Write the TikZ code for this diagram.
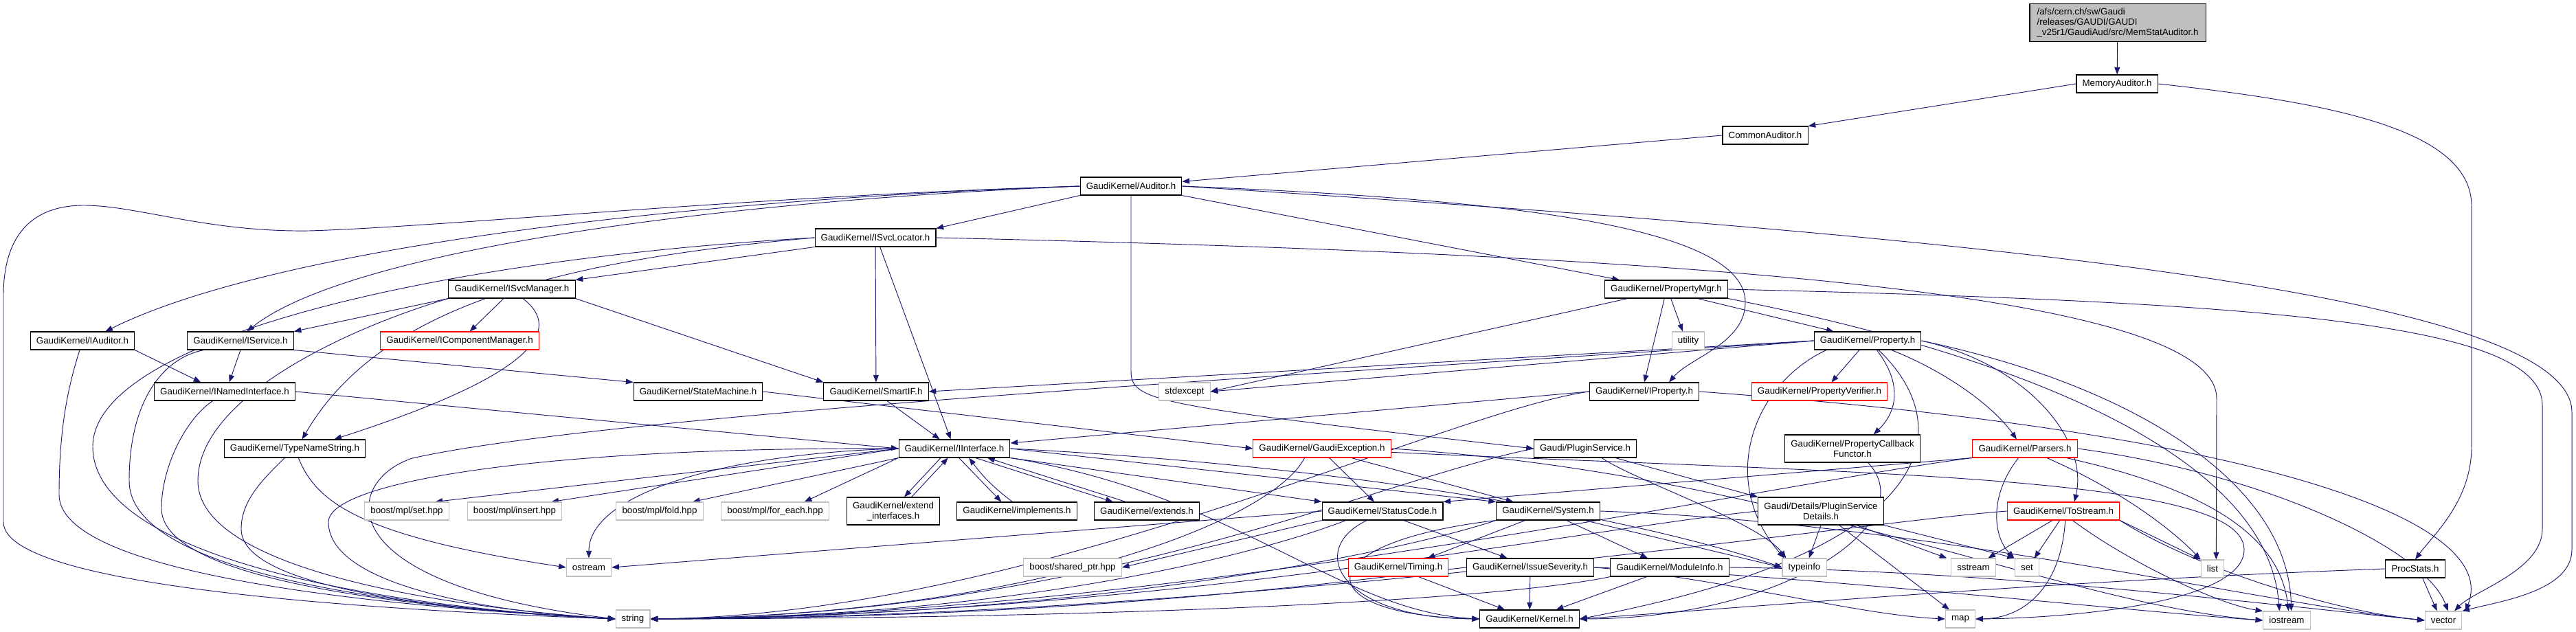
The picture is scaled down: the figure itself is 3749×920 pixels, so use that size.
\documentclass[tikz,border=0pt]{standalone}
\usepackage{fontspec}
\setmainfont{Liberation Sans}
\usetikzlibrary{arrows.meta}

\definecolor{edgeblue}{HTML}{191970}
\definecolor{sysgray}{HTML}{BFBFBF}
\pgfdeclarelayer{edges}
\pgfsetlayers{edges,main}

\tikzset{
  hdr/.style={draw=black, fill=white, line width=0.8pt, font=\fontsize{10}{11.25}\selectfont,
    inner xsep=6.5pt, inner ysep=1pt, minimum height=19.5pt, align=center},
  syshdr/.style={hdr, draw=sysgray},
  redhdr/.style={hdr, draw=red},
  twoline/.style={minimum height=30pt},
  dep/.style={edgeblue, line width=0.7pt, -{Triangle[length=8pt,width=6pt]}}
}

\begin{document}
\begin{tikzpicture}[x=0.75pt,y=-0.75pt]
\useasboundingbox (0,0) rectangle (3749,920);

\node[hdr, fill=sysgray, align=left, minimum width=192pt, minimum height=41pt] (memstat) at (3082,33) {/afs/cern.ch/sw/Gaudi\\/releases/GAUDI/GAUDI\\\_v25r1/GaudiAud/src/MemStatAuditor.h};
\node[hdr] (memaud) at (3081,122) {MemoryAuditor.h};
\node[hdr] (common) at (2569,197) {CommonAuditor.h};
\node[hdr] (auditor) at (1646,271) {GaudiKernel/Auditor.h};
\node[hdr] (svcloc) at (1274,346) {GaudiKernel/ISvcLocator.h};
\node[hdr] (svcman) at (745,421) {GaudiKernel/ISvcManager.h};
\node[hdr] (propmgr) at (2425,421) {GaudiKernel/PropertyMgr.h};
\node[hdr] (iauditor) at (120,496) {GaudiKernel/IAuditor.h};
\node[hdr] (iservice) at (350,496) {GaudiKernel/IService.h};
\node[redhdr] (compmgr) at (669,496) {GaudiKernel/IComponentManager.h};
\node[syshdr] (utility) at (2457,496) {utility};
\node[hdr] (property) at (2718,496) {GaudiKernel/Property.h};
\node[hdr] (named) at (327,570) {GaudiKernel/INamedInterface.h};
\node[hdr] (statemach) at (1016,570) {GaudiKernel/StateMachine.h};
\node[hdr] (smartif) at (1275,570) {GaudiKernel/SmartIF.h};
\node[syshdr] (stdexcept) at (1724,570) {stdexcept};
\node[hdr] (iproperty) at (2393,570) {GaudiKernel/IProperty.h};
\node[redhdr] (verifier) at (2648,570) {GaudiKernel/PropertyVerifier.h};
\node[hdr] (typename) at (429,653) {GaudiKernel/TypeNameString.h};
\node[hdr] (iface) at (1389,653) {GaudiKernel/IInterface.h};
\node[redhdr] (gexcept) at (1924,653) {GaudiKernel/GaudiException.h};
\node[hdr] (plugin) at (2307,653) {Gaudi/PluginService.h};
\node[hdr, twoline] (callback) at (2696,653) {GaudiKernel/PropertyCallback\\Functor.h};
\node[redhdr] (parsers) at (2947,653) {GaudiKernel/Parsers.h};
\node[syshdr] (mplset) at (592,744) {boost/mpl/set.hpp};
\node[syshdr] (mplinsert) at (749,744) {boost/mpl/insert.hpp};
\node[syshdr] (mplfold) at (960,744) {boost/mpl/fold.hpp};
\node[syshdr] (mplforeach) at (1128,744) {boost/mpl/for\_each.hpp};
\node[hdr, twoline] (extendif) at (1300,744) {GaudiKernel/extend\\\_interfaces.h};
\node[hdr] (implements) at (1480,744) {GaudiKernel/implements.h};
\node[hdr] (extends) at (1669,744) {GaudiKernel/extends.h};
\node[hdr] (status) at (2012,744) {GaudiKernel/StatusCode.h};
\node[hdr] (system) at (2253,744) {GaudiKernel/System.h};
\node[hdr, twoline] (plugdet) at (2650,744) {Gaudi/Details/PluginService\\Details.h};
\node[redhdr] (tostream) at (3003,744) {GaudiKernel/ToStream.h};
\node[syshdr] (ostream) at (857,826) {ostream};
\node[syshdr] (sharedptr) at (1561,826) {boost/shared\_ptr.hpp};
\node[redhdr] (timing) at (2035,826) {GaudiKernel/Timing.h};
\node[hdr] (severity) at (2227,826) {GaudiKernel/IssueSeverity.h};
\node[hdr] (modinfo) at (2430,826) {GaudiKernel/ModuleInfo.h};
\node[syshdr] (typeinfo) at (2626,826) {typeinfo};
\node[syshdr] (sstream) at (2872,826) {sstream};
\node[syshdr] (set) at (2950,826) {set};
\node[syshdr] (list) at (3220,828) {list};
\node[hdr] (procstats) at (3515,828) {ProcStats.h};
\node[syshdr] (string) at (921,901) {string};
\node[hdr] (kernel) at (2226,901) {GaudiKernel/Kernel.h};
\node[syshdr] (map) at (2853,901) {map};
\node[syshdr] (iostream) at (3328,903) {iostream};
\node[syshdr] (vector) at (3556,903) {vector};

\begin{pgfonlayer}{edges}
% auditor chain
\draw[dep] (memstat) -- (memaud);
\draw[dep] (memaud.west) -- (common.north east);
\draw[dep] (memaud.east) .. controls (3400,150) and (3597,190) .. (3597,300) -- (3597,650) .. controls (3597,730) and (3540,780) .. (procstats.north);
\draw[dep] (common.west) -- ([yshift=5pt]auditor.east);

\draw[dep] (auditor.west) .. controls (1100,285) and (650,330) .. (450,336) .. controls (300,338) and (200,299) .. (122,299) .. controls (40,299) and (5,350) .. (5,430) -- (5,760) .. controls (5,860) and (600,890) .. (string.west);
\draw[dep] (auditor.west) .. controls (1000,290) and (400,360) .. ([xshift=25pt]iauditor.north);
\draw[dep] (auditor.west) .. controls (1000,295) and (500,370) .. ([xshift=7pt]iservice.north);
\draw[dep] (auditor.south west) -- (svcloc.north east);
\draw[dep] (auditor.south east) -- ([xshift=-51pt]propmgr.north);
\draw[dep] (auditor.east) .. controls (2200,290) and (2540,330) .. (2540,440) .. controls (2540,500) and (2460,520) .. ([xshift=27pt]iproperty.north);
\draw[dep] (auditor.south) -- (1646,540) .. controls (1646,585) and (1680,590) .. (plugin.west);
\draw[dep] (auditor.east) .. controls (2800,340) and (3743,420) .. (3743,600) -- (3743,800) .. controls (3743,860) and (3640,875) .. (vector.north east);

\draw[dep] (svcloc.south west) -- (svcman.north east);
\draw[dep] (svcloc) -- (smartif);
\draw[dep] ([xshift=5pt]svcloc.south) -- ([xshift=-4pt]iface.north);
\draw[dep] (svcloc.west) .. controls (800,380) and (550,450) .. ([xshift=8pt]typename.north);
\draw[dep] (svcloc.west) .. controls (600,380) and (135,500) .. (135,650) .. controls (135,800) and (500,880) .. (string.west);
\draw[dep] (svcloc.east) .. controls (2400,370) and (3226,420) .. (3226,580) -- ([xshift=4pt]list.north);

\draw[dep] (svcman.south west) -- (iservice.north east);
\draw[dep] ([xshift=-9pt]svcman.south) -- ([xshift=11pt]compmgr.north);
\draw[dep] (svcman.south east) -- (smartif.north west);
\draw[dep] ([xshift=12pt]svcman.south) .. controls (820,480) and (780,545) .. ([xshift=43pt]typename.north);
\draw[dep] (svcman.south west) .. controls (500,480) and (288,580) .. (288,700) .. controls (288,820) and (600,880) .. (string.west);

\draw[dep] (iauditor.south east) -- ([xshift=-26pt]named.north);
\draw[dep] ([xshift=-3pt]iauditor.south) .. controls (100,560) and (86,620) .. (86,720) .. controls (86,830) and (500,880) .. (string.west);
\draw[dep] (iservice.south) -- ([xshift=5pt]named.north);
\draw[dep] (iservice.south east) -- (statemach.north west);
\draw[dep] ([xshift=-40pt]iservice.south) .. controls (240,520) and (188,580) .. (188,700) .. controls (188,820) and (500,880) .. (string.west);
\draw[dep] (named.east) -- (iface.west);
\draw[dep] ([xshift=-13pt]named.south) .. controls (270,610) and (235,680) .. (235,740) .. controls (235,830) and (500,880) .. (string.west);
\draw[dep] ([xshift=-11pt]typename.south) .. controls (380,700) and (351,730) .. (351,770) .. controls (351,850) and (600,885) .. (string.west);
\draw[dep] ([xshift=4pt]typename.south) .. controls (460,730) and (520,780) .. (ostream.west);
\draw[dep] (statemach.east) -- (gexcept.west);
\draw[dep] ([xshift=12pt]smartif.south) -- ([xshift=-16pt]iface.north);

% IInterface
\draw[dep] ([xshift=-15pt]iface.south) -- ([xshift=12pt]extendif.north);
\draw[dep] ([xshift=20pt]extendif.north) -- ([xshift=-7pt]iface.south);
\draw[dep] ([xshift=5pt]iface.south) -- ([xshift=-17pt]implements.north);
\draw[dep] ([xshift=-5pt]implements.north) to[bend left=8] ([xshift=16pt]iface.south);
\draw[dep] ([xshift=23pt]iface.south) -- ([xshift=-37pt]extends.north);
\draw[dep] ([xshift=-23pt]extends.north) -- ([xshift=36pt]iface.south);
\draw[dep] (iface.west) -- ([xshift=31pt]mplset.north);
\draw[dep] (iface.west) -- ([xshift=40pt]mplinsert.north);
\draw[dep] (iface.south west) -- ([xshift=36pt]mplfold.north);
\draw[dep] (iface.south west) -- ([xshift=32pt]mplforeach.north);
\draw[dep] (iface.west) .. controls (1050,660) and (857,720) .. (ostream.north);
\draw[dep] (iface.west) .. controls (800,650) and (478,700) .. (478,760) .. controls (478,850) and (700,890) .. (string.west);
\draw[dep] (iface.south east) -- (status.north west);
\draw[dep] (iface.east) -- (system.north west);
\draw[dep] (iface.south east) .. controls (1800,720) and (1950,890) .. (kernel.west);
\draw[dep] (iface.east) .. controls (2000,680) and (2400,760) .. (typeinfo.west);

\draw[dep] ([xshift=8pt]gexcept.south) -- ([xshift=-9pt]status.north);
\draw[dep] ([xshift=32pt]gexcept.south) -- ([xshift=-38pt]system.north);
\draw[dep] ([xshift=-19pt]gexcept.south) .. controls (1850,760) and (1500,895) .. (string.east);
\draw[dep] (gexcept.east) .. controls (2600,690) and (3000,880) .. (iostream.west);
\draw[dep] ([yshift=-4pt]gexcept.east) .. controls (2700,690) and (3266,690) .. (3266,800) .. controls (3266,880) and (3000,900) .. (map.east);

\draw[dep] (status.west) -- (ostream.east);
\draw[dep] (status.south west) -- (sharedptr.east);
\draw[dep] ([xshift=23pt]status.south) -- ([xshift=-25pt]severity.north);
\draw[dep] ([xshift=-17pt]status.south) .. controls (1900,800) and (1950,900) .. (kernel.west);
\draw[dep] ([xshift=-40pt]status.south) .. controls (1850,800) and (1500,898) .. (string.east);

\draw[dep] ([xshift=-25pt]system.south) -- ([xshift=32pt]timing.north);
\draw[dep] ([xshift=20pt]system.south) -- ([xshift=-24pt]modinfo.north);
\draw[dep] (system.south west) .. controls (1900,790) and (1900,895) .. (kernel.west);
\draw[dep] (system.south west) .. controls (2050,800) and (1600,898) .. (string.east);
\draw[dep] (system.east) .. controls (2800,760) and (3300,880) .. (vector.west);
\draw[dep] ([xshift=40pt]system.south) -- (typeinfo.west);

\draw[dep] ([xshift=22pt]timing.south) -- ([xshift=-27pt]kernel.north);
\draw[dep] (severity) -- (kernel);
\draw[dep] (severity.east) .. controls (2500,840) and (2700,895) .. (map.west);
\draw[dep] (severity.west) .. controls (2000,840) and (1600,900) .. (string.east);
\draw[dep] (severity.east) .. controls (2600,835) and (3100,890) .. (iostream.west);
\draw[dep] ([xshift=-25pt]modinfo.south) -- ([xshift=29pt]kernel.north);
\draw[dep] (modinfo.south west) .. controls (2200,870) and (1700,900) .. (string.east);
\draw[dep] (modinfo.east) .. controls (2900,830) and (3300,880) .. (vector.west);

\draw[dep] ([xshift=33pt]plugin.south) -- (plugdet.north west);
\draw[dep] ([xshift=18pt]plugin.south) .. controls (2380,700) and (2560,760) .. ([xshift=-20pt]typeinfo.north);
\draw[dep] (plugin.west) .. controls (2000,700) and (1600,895) .. (string.east);
\draw[dep] (plugdet.south) -- ([xshift=5pt]typeinfo.north);
\draw[dep] ([xshift=20pt]plugdet.south) -- ([xshift=-12pt]map.north);
\draw[dep] ([xshift=39pt]plugdet.south) -- ([xshift=-29pt]sstream.north);
\draw[dep] (plugdet.south east) -- (set.north west);
\draw[dep] (plugdet.west) .. controls (2300,770) and (1700,895) .. (string.east);

% property side
\draw[dep] ([xshift=-2pt]propmgr.south) -- (iproperty.north);
\draw[dep] ([xshift=5pt]propmgr.south) -- ([xshift=-6pt]utility.north);
\draw[dep] ([xshift=34pt]propmgr.south) -- ([xshift=-37pt]property.north);
\draw[dep] ([xshift=-42pt]propmgr.south) -- (stdexcept.east);
\draw[dep] (propmgr.east) .. controls (3300,440) and (3700,470) .. (3700,590) -- (3700,770) .. controls (3700,830) and (3600,860) .. ([xshift=12pt]vector.north);
\draw[dep] (propmgr.south east) .. controls (2900,510) and (3300,650) .. ([xshift=-8pt]iostream.north);

\draw[dep] (property.west) -- (smartif.east);
\draw[dep] (property.west) -- (stdexcept.east);
\draw[dep] ([xshift=-9pt]property.south) -- ([xshift=13pt]verifier.north);
\draw[dep] ([xshift=10pt]property.south) .. controls (2770,560) and (2760,600) .. ([xshift=23pt]callback.north);
\draw[dep] ([xshift=26pt]property.south) .. controls (2830,540) and (2900,590) .. ([xshift=-9pt]parsers.north);
\draw[dep] (property.east) .. controls (2950,530) and (3040,640) .. ([xshift=12pt]tostream.north);
\draw[dep] ([xshift=-45pt]property.south) .. controls (2550,560) and (2500,700) .. ([xshift=-22pt]typeinfo.north);
\draw[dep] ([xshift=12pt]property.south) .. controls (2850,620) and (2830,800) .. (kernel.east);
\draw[dep] (property.west) .. controls (2000,540) and (900,600) .. (600,667) .. controls (500,700) and (470,850) .. (string.west);
\draw[dep] (property.east) .. controls (3100,560) and (3330,700) .. ([xshift=5pt]iostream.north);

\draw[dep] (iproperty.west) -- ([yshift=6pt]iface.east);
\draw[dep] (iproperty.west) .. controls (2100,600) and (1500,895) .. (string.east);
\draw[dep] (iproperty.east) .. controls (3300,630) and (3640,760) .. ([xshift=24pt]vector.north);

\draw[dep] (parsers.south west) -- (status.north east);
\draw[dep] ([xshift=-7pt]parsers.south) .. controls (2895,720) and (2900,780) .. ([xshift=-14pt]set.north);
\draw[dep] ([xshift=24pt]parsers.south) .. controls (3100,720) and (3170,780) .. (list.north west);
\draw[dep] (parsers.east) .. controls (3300,690) and (3530,800) .. ([xshift=5pt]vector.north);
\draw[dep] ([xshift=45pt]parsers.south) .. controls (3250,720) and (3320,800) .. ([xshift=2pt]iostream.north);
\draw[dep] (parsers.south west) .. controls (2600,700) and (1700,898) .. (string.east);

\draw[dep] ([xshift=-12pt]tostream.south) -- ([xshift=16pt]sstream.north);
\draw[dep] ([xshift=-4pt]tostream.south) -- ([xshift=8pt]set.north);
\draw[dep] ([xshift=2pt]tostream.south) .. controls (3000,850) and (2950,900) .. (map.east);
\draw[dep] (tostream.west) .. controls (2700,760) and (1800,900) .. (string.east);
\draw[dep] (tostream.south east) -- (list.north west);
\draw[dep] ([xshift=10pt]tostream.south) .. controls (3100,820) and (3230,880) .. (iostream.north west);
\draw[dep] (tostream.south east) .. controls (3200,830) and (3400,890) .. (vector.west);

\draw[dep] ([xshift=17pt]callback.south) .. controls (2800,760) and (2600,900) .. (kernel.east);
\draw[dep] ([xshift=8pt]procstats.south) -- ([xshift=-7pt]vector.north);
\draw[dep] (procstats.west) .. controls (3000,845) and (2600,880) .. (kernel.east);
\end{pgfonlayer}

\end{tikzpicture}
\end{document}
